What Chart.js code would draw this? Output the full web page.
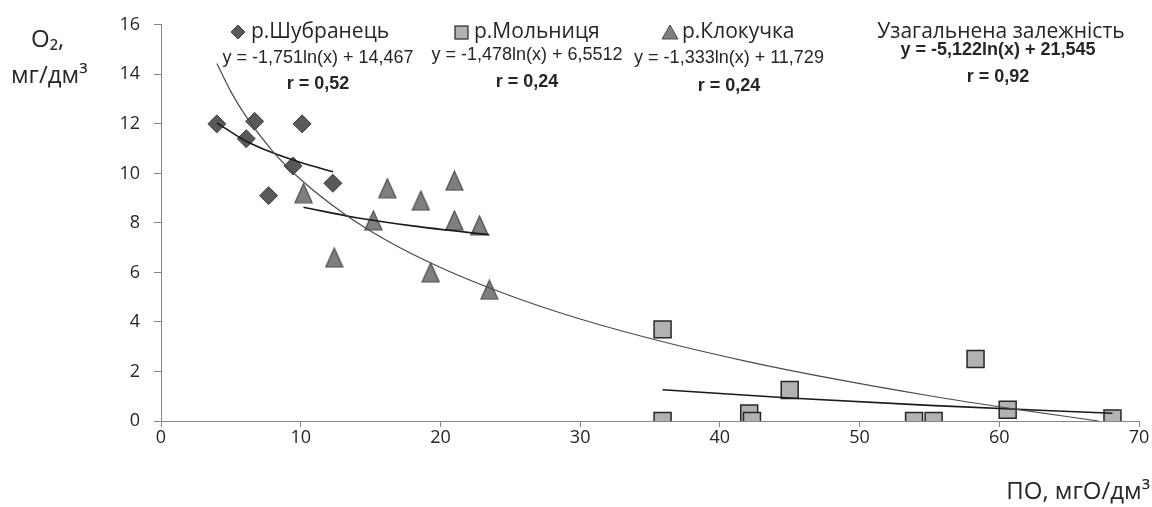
<!DOCTYPE html>
<html><head><meta charset="utf-8">
<script src="https://cdn.jsdelivr.net/npm/chart.js@4.4.1/dist/chart.umd.min.js"></script>
<style>html,body{margin:0;padding:0;background:#fff;}#wrap{width:1152px;height:507px;}</style>
</head><body><div id="wrap"><canvas id="c" width="1152" height="507"></canvas></div>
<script>
// ---- data ----
const xTicks = [0, 10, 20, 30, 40, 50, 60, 70];
const yTicks = [0, 2, 4, 6, 8, 10, 12, 14, 16];

const seriesNames = ['р.Шубранець', 'р.Мольниця', 'р.Клокучка', 'Узагальнена залежність'];
const equations = ['y = -1,751ln(x) + 14,467', 'y = -1,478ln(x) + 6,5512', 'y = -1,333ln(x) + 11,729', 'y = -5,122ln(x) + 21,545'];
const rValues = ['r = 0,52', 'r = 0,24', 'r = 0,24', 'r = 0,92'];

const shubX = [4.0, 6.1, 6.7, 7.7, 9.45, 10.1, 12.3];
const shubY = [12.0, 11.4, 12.1, 9.1, 10.3, 12.0, 9.6];

const klokX = [10.2, 12.4, 15.2, 16.2, 18.6, 19.3, 21.0, 21.0, 22.8, 23.5];
const klokY = [9.2, 6.6, 8.1, 9.4, 8.9, 6.0, 9.7, 8.1, 7.9, 5.3];

const molX = [35.9, 35.9, 42.1, 42.3, 45.0, 53.9, 55.3, 58.3, 60.6, 68.1];
const molY = [3.7, 0.0, 0.3, 0.0, 1.25, 0.0, 0.0, 2.5, 0.45, 0.1];

// trend lines, points
const trendShubX = [4, 6, 8, 10, 12.3];
const trendShubY = [12.04, 11.33, 10.83, 10.44, 10.07];
const trendKlokX = [10.2, 14, 18, 23.5];
const trendKlokY = [8.63, 8.21, 7.88, 7.52];
const trendMolX = [35.9, 45, 55, 68.1];
const trendMolY = [1.26, 0.93, 0.63, 0.31];
const trendAllX = [4, 5, 6, 8, 10, 13, 16, 20, 25, 30, 36, 42, 48, 55, 61, 67.1];
const trendAllY = [14.44, 13.30, 12.37, 10.89, 9.75, 8.41, 7.34, 6.20, 5.06, 4.12, 3.19, 2.40, 1.72, 1.02, 0.49, 0.0];

const pts = (xs, ys) => xs.map((x, i) => ({x: x, y: ys[i]}));

function triCanvas(w, h) {
  const c = document.createElement('canvas');
  c.width = w; c.height = h;
  const g = c.getContext('2d');
  g.beginPath();
  g.moveTo(w / 2, 1); g.lineTo(w - 1, h - 1); g.lineTo(1, h - 1); g.closePath();
  g.fillStyle = '#7f7f7f'; g.fill();
  g.lineWidth = 1.2; g.strokeStyle = '#4d4d4d'; g.stroke();
  return c;
}
const triImg = triCanvas(19, 21);

const TEXT = '#262626';
const NARROW = '"Liberation Sans Narrow", "Liberation Sans"';
const annot = {
  id: 'annot',
  afterDraw(chart) {
    const ctx = chart.ctx;
    ctx.save();
    ctx.fillStyle = TEXT;
    ctx.textBaseline = 'middle';
    ctx.font = '24px "Open Sans"';
    ctx.textAlign = 'left';
    ctx.fillText('O₂,', 31, 40);
    ctx.fillText('мг/дм³', 11, 76);
    ctx.textAlign = 'right';
    ctx.fillText('ПО, мгО/дм³', 1150, 492);

    // legend markers
    ctx.beginPath();
    ctx.moveTo(238, 25); ctx.lineTo(245, 32); ctx.lineTo(238, 39); ctx.lineTo(231, 32); ctx.closePath();
    ctx.fillStyle = '#595959'; ctx.fill(); ctx.strokeStyle = '#3f3f3f'; ctx.lineWidth = 1; ctx.stroke();
    ctx.fillStyle = '#b2b2b2'; ctx.fillRect(455, 26, 13, 13);
    ctx.strokeStyle = '#262626'; ctx.lineWidth = 1.2; ctx.strokeRect(455, 26, 13, 13);
    ctx.beginPath();
    ctx.moveTo(670, 25); ctx.lineTo(678, 39); ctx.lineTo(662, 39); ctx.closePath();
    ctx.fillStyle = '#7f7f7f'; ctx.fill(); ctx.strokeStyle = '#4d4d4d'; ctx.lineWidth = 1; ctx.stroke();

    ctx.fillStyle = TEXT;
    ctx.textAlign = 'left';
    ctx.font = '21px "Open Sans"';
    ctx.fillText(seriesNames[0], 251, 32);
    ctx.fillText(seriesNames[1], 474, 32);
    ctx.fillText(seriesNames[2], 682, 32);
    ctx.textAlign = 'center';
    ctx.fillText(seriesNames[3], 1001, 32);

    const eqX = [318, 527, 729, 998];
    const eqY = [58, 55, 58, 50];
    const rY = [84, 82, 86, 77];
    for (let i = 0; i < 4; i++) {
      ctx.font = (i === 3 ? 'bold ' : '') + '18px ' + NARROW;
      ctx.fillText(equations[i], eqX[i], eqY[i]);
      ctx.font = 'bold 18px ' + NARROW;
      ctx.fillText(rValues[i], eqX[i], rY[i]);
    }
    ctx.restore();
  }
};

const lineDs = (xs, ys, color, w) => ({
  type: 'line', data: pts(xs, ys), borderColor: color, borderWidth: w,
  pointRadius: 0, fill: false, cubicInterpolationMode: 'monotone', order: 0
});

new Chart(document.getElementById('c'), {
  type: 'scatter',
  data: {
    datasets: [
      lineDs(trendAllX, trendAllY, '#4a4a4a', 1.2),
      lineDs(trendShubX, trendShubY, '#1a1a1a', 1.6),
      lineDs(trendKlokX, trendKlokY, '#1a1a1a', 1.6),
      lineDs(trendMolX, trendMolY, '#1a1a1a', 1.6),
      { label: seriesNames[0], data: pts(shubX, shubY), pointStyle: 'rectRot', pointRadius: 9,
        backgroundColor: '#595959', borderColor: '#3f3f3f', borderWidth: 1, order: 1 },
      { label: seriesNames[2], data: pts(klokX, klokY), pointStyle: triImg, order: 1 },
      { label: seriesNames[1], data: pts(molX, molY), pointStyle: 'rect', pointRadius: 12,
        backgroundColor: '#b2b2b2', borderColor: '#262626', borderWidth: 1.5, order: 1 }
    ]
  },
  options: {
    responsive: false, animation: false, events: [],
    layout: { autoPadding: false, padding: { left: 0, top: 24, right: 13, bottom: 0 } },
    plugins: { legend: { display: false }, tooltip: { enabled: false } },
    scales: {
      x: {
        type: 'linear', min: 0, max: 70,
        afterBuildTicks: s => { s.ticks = xTicks.map(v => ({value: v})); },
        afterFit: s => { s.height = 86; },
        grid: { drawOnChartArea: false, drawTicks: true, tickLength: 6, color: '#868686' },
        border: { display: true, color: '#868686', width: 1 },
        ticks: { padding: 0, color: TEXT, font: { family: 'Open Sans', size: 18 } }
      },
      y: {
        type: 'linear', min: 0, max: 16,
        afterBuildTicks: s => { s.ticks = yTicks.map(v => ({value: v})); },
        afterFit: s => { s.width = 161; },
        grid: { drawOnChartArea: false, drawTicks: true, tickLength: 7, color: '#868686' },
        border: { display: true, color: '#868686', width: 1 },
        ticks: { padding: 14, color: TEXT, font: { family: 'Open Sans', size: 18 } }
      }
    }
  },
  plugins: [annot]
});
</script></body></html>
